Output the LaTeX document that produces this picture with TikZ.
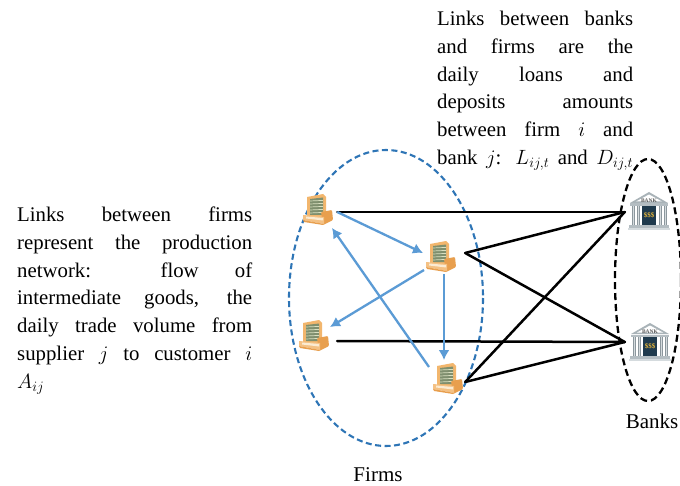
\documentclass[tikz,border=0pt]{standalone}
\usepackage{fontspec}
\setmainfont{Liberation Serif}
\usetikzlibrary{calc,arrows.meta}
\definecolor{bluelink}{HTML}{5B9BD5}
\definecolor{bluedash}{HTML}{2E75B6}
\definecolor{firmA}{HTML}{F2B66D}
\definecolor{firmB}{HTML}{7F8F6E}
\definecolor{firmC}{HTML}{D9DFC0}
\definecolor{firmD}{HTML}{E89F4E}
\definecolor{firmE}{HTML}{F4C184}
\definecolor{firmF}{HTML}{FBEBD2}
\definecolor{bankA}{HTML}{A9B3B8}
\definecolor{bankB}{HTML}{B4BDC2}
\definecolor{bankC}{HTML}{8C979D}
\definecolor{bankD}{HTML}{D5DBDE}
\definecolor{bankE}{HTML}{1F3A4D}
\definecolor{bankF}{HTML}{E5B53A}
\newcommand{\jline}[1]{\par\noindent\hbox to \hsize{\spaceskip=0.22em plus 1fil\relax #1}}
\tikzset{
  x=1bp,y=-1bp,
  anchorbox/.style={inner sep=0pt,minimum width=#1,minimum height=38bp},
  bluearrow/.style={draw=bluelink,line width=2.3bp,-{Latex[length=10bp,width=11bp]}},
  blackline/.style={draw=black,line width=2.5bp,line cap=round},
  para/.style={inner sep=0pt,anchor=north west,font=\fontsize{20.8bp}{27.7bp}\selectfont},
  caption/.style={inner sep=0pt,font=\fontsize{21bp}{22bp}\selectfont},
  firm/.pic={
    \fill[firmA] (-10,-12) -- (6,-15) -- (9,-12) -- (9,8) -- (-10,8) -- cycle;
    \fill[firmB] (-7,-10) -- (6,-11.5) -- (6,6) -- (-7,6) -- cycle;
    \foreach \yy in {-8,-5,-2,1,4} \draw[firmC,line width=.7bp] (-7,\yy) -- (6,\yy-.6);
    \fill[firmD,rounded corners=1bp] (4,3) -- (15,1) -- (16,11) -- (6,16) -- cycle;
    \fill[firmE] (-14,6) -- (7,8) -- (7,15) -- (-14,11) -- cycle;
    \fill[firmF] (-11,7.5) -- (6,9) -- (6,11.5) -- (-11,9.5) -- cycle;
    \fill[firmD] (-14,11) -- (7,15) -- (6,16) -- (-13,13) -- cycle;
  },
  bank/.pic={
    \fill[bankA] (0,-19) -- (19,-8) -- (-19,-8) -- cycle;
    \fill[white] (0,-16.5) -- (13,-9.5) -- (-13,-9.5) -- cycle;
    \node[inner sep=0pt,font=\fontsize{5.5bp}{6bp}\bfseries\selectfont,text=black!65] at (0,-10.5) {BANK};
    \fill[bankB] (-19,-7.5) rectangle (19,-5);
    \foreach \xx in {-17,-12,10,15} \fill[bankC] (\xx,-5) rectangle (\xx+3,14);
    \foreach \xx in {-16,-11,11,16} \fill[bankD] (\xx,-5) rectangle (\xx+1,14);
    \fill[bankE] (-7,-5) rectangle (7,14);
    \node[inner sep=0pt,font=\fontsize{7bp}{8bp}\bfseries\selectfont,text=bankF] at (0,4) {\$\$\$};
    \fill[bankB] (-20,14) rectangle (20,17);
    \fill[bankD] (-21,17) rectangle (21,19);
  }
}
\begin{document}
\begin{tikzpicture}
\useasboundingbox (0,0) rectangle (680,486);
\fill[white] (0,0) rectangle (680,486);
% named anchors for the icons
\node[anchorbox=42bp] (f1) at (316,212) {};
\node[anchorbox=44bp] (f2) at (443,253) {};
\node[anchorbox=42bp] (f3) at (316,341) {};
\node[anchorbox=38bp] (f4) at (446,382) {};
\node[anchorbox=48bp] (b1) at (649,212) {};
\node[anchorbox=48bp] (b2) at (649,342) {};
% ellipses
\draw[bluedash,line width=2.1bp,dash pattern=on 6bp off 3.5bp] (386,298) ellipse [x radius=97,y radius=148];
\draw[black,line width=2.3bp,dash pattern=on 7bp off 4bp] (648,280) ellipse [x radius=33,y radius=121];
% black links
\draw[blackline] (f1.east) -- (b1.west);
\draw[blackline] (f2.east) -- (b1.west);
\draw[blackline] (f2.east) -- (b2.west);
\draw[blackline] (f3.east) -- (b2.west);
\draw[blackline] (f4.east) -- (b1.west);
\draw[blackline] (f4.east) -- (b2.west);
% blue links
\draw[bluearrow] (f1.east) -- ($(f2)+(-20,0)$);
\draw[bluearrow] ($(f2)+(-19,17)$) -- ($(f3)+(14,-14)$);
\draw[bluearrow] ($(f2)+(1,21)$) -- ($(f4)+(-2,-22)$);
\draw[bluearrow] ($(f4)+(-17,-15)$) -- ($(f1)+(16,16)$);
% icons
\pic at (317,209) {firm};
\pic at (440,256) {firm};
\pic at (313,335) {firm};
\pic at (447,378) {firm};
\pic at (649,211) {bank};
\pic at (650,342) {bank};
% texts
\node[para] (lefttext) at (17,207) {\parbox[t]{235bp}{\jline{Links between firms}\jline{represent the production}\jline{network: flow of}\jline{intermediate goods, the}\jline{daily trade volume from}\jline{supplier $j$ to customer $i$}\jline{$A_{ij}$\hfil}}};
\node[para] (toptext) at (437,11) {\parbox[t]{196bp}{\jline{Links between banks}\jline{and firms are the}\jline{daily loans and}\jline{deposits amounts}\jline{between firm $i$ and}\jline{bank $j$: $L_{ij,t}$ and $D_{ij,t}$}}};
\node[caption] (firmslabel) at (378,475) {Firms};
\node[caption] (bankslabel) at (652,421) {Banks};
\end{tikzpicture}
\end{document}
